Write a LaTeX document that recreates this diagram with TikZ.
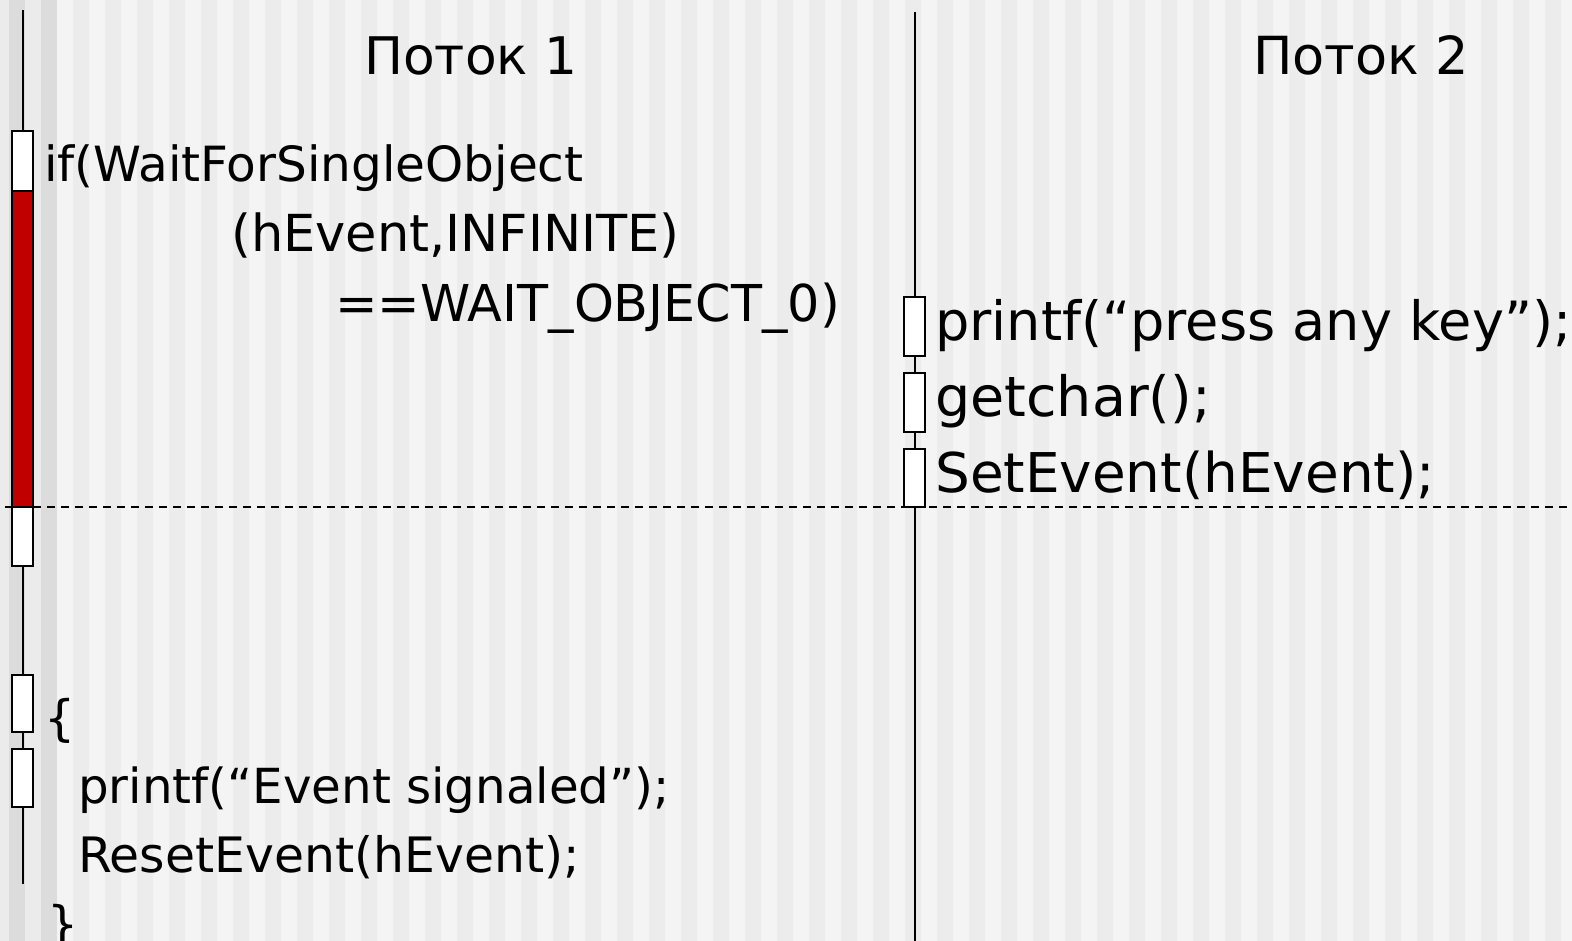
\documentclass[tikz,border=0pt]{standalone}
\usepackage{fontspec}
\setmainfont{DejaVu Sans}
\definecolor{stripeA}{HTML}{F4F4F4}
\definecolor{stripeB}{HTML}{ECECEC}
\definecolor{stripeC}{HTML}{EBEBEB}
\definecolor{stripeD}{HTML}{DCDCDC}
\definecolor{waitred}{HTML}{C00000}
\begin{document}
\begin{tikzpicture}[x=1pt,y=-1pt,
  txt/.style={anchor=base west, inner sep=0pt, font=\fontsize{#1}{#1}\selectfont},
  actbox/.style={draw=black, line width=2pt, fill=white, minimum width=21pt, inner sep=0pt, outer sep=0pt},
  waitbox/.style={actbox, fill=waitred},
  life/.style={line width=2pt, black},
  sep/.style={line width=1.5pt, black, dash pattern=on 8pt off 6pt}
]
\useasboundingbox (0,0) rectangle (1572,941);
% background stripes
\fill[stripeC] (0,0) rectangle (57,941);
\fill[stripeD] (9,0) rectangle (25,941);
\fill[stripeD] (41,0) rectangle (57,941);
\fill[stripeA] (57,0) rectangle (1572,941);
\foreach \i in {0,...,47} {
  \fill[stripeB] ({73+32*\i},0) rectangle ({89+32*\i},941);
}
% lifelines
\coordinate (l1top) at (22.5,10);
\coordinate (l1bot) at (22.5,884);
\coordinate (l2top) at (914.5,12);
\coordinate (l2bot) at (914.5,941);
\draw[life] (l1top) -- (l1bot);
\draw[life] (l2top) -- (l2bot);
% separator
\coordinate (sepL) at (5,507);
\coordinate (sepR) at (1572,507);
\draw[sep] (sepL) -- (sepR);
% thread 1 activations
\node[actbox, minimum height=60pt] (b1) at (22.5,161) {};
\node[waitbox, minimum height=316pt] (b2) at (22.5,349) {};
\node[actbox, minimum height=59pt] (b3) at (22.5,536.5) {};
\node[actbox, minimum height=57pt] (b4) at (22.5,703.5) {};
\node[actbox, minimum height=58pt] (b5) at (22.5,778) {};
% thread 2 activations
\node[actbox, minimum height=59pt] (c1) at (914.5,326.5) {};
\node[actbox, minimum height=59pt] (c2) at (914.5,402.5) {};
\node[actbox, minimum height=58pt] (c3) at (914.5,478) {};
% texts
\node[txt=51.8] (h1) at (364,75) {Поток 1};
\node[txt=52.5] (h2) at (1253,75) {Поток 2};
\node[txt=48.5] (t1) at (44,182) {if(WaitForSingleObject};
\node[txt=51] (t2) at (231,252) {(hEvent,INFINITE)};
\node[txt=50.8] (t3) at (335,322) {==WAIT\_OBJECT\_0)};
\node[txt=48.3] (t4) at (78,803) {printf(“Event signaled”);};
\node[txt=48.8] (t5) at (78,872) {ResetEvent(hEvent);};
\node[txt=49] (t6) at (44,735) {\{};
\node[txt=49] (t7) at (47,941) {\}};
\node[txt=54.1] (s1) at (935,341) {printf(“press any key”);};
\node[txt=55.5] (s2) at (935,416) {getchar();};
\node[txt=54.8] (s3) at (935,492) {SetEvent(hEvent);};
\end{tikzpicture}
\end{document}
